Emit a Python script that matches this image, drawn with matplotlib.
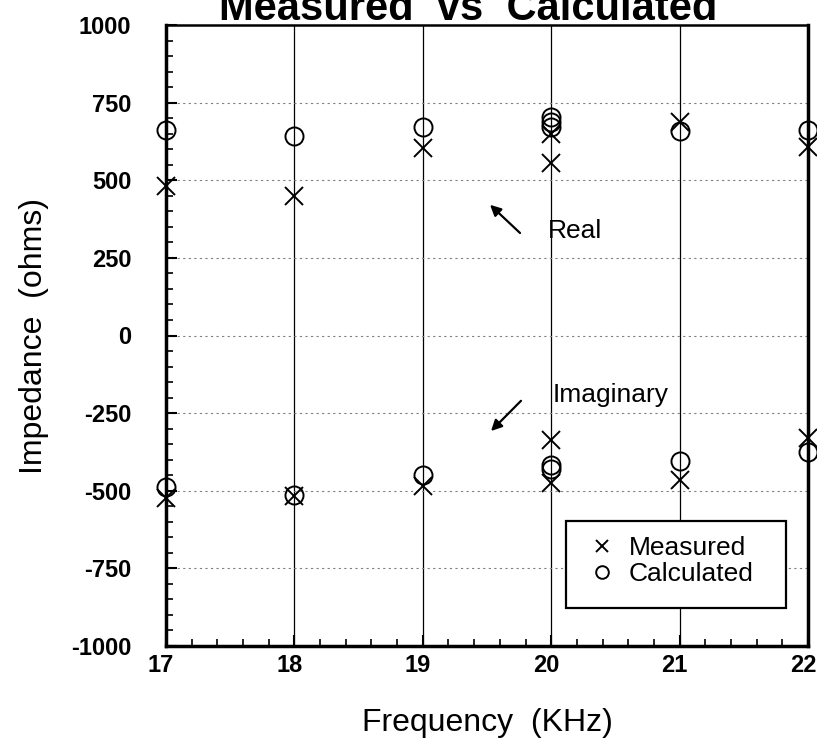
import matplotlib
matplotlib.use("Agg")
import matplotlib.pyplot as plt
from matplotlib.patches import Rectangle
from matplotlib.ticker import MultipleLocator
from matplotlib.transforms import ScaledTranslation

plt.rcParams["font.family"] = ["Liberation Sans", "DejaVu Sans"]

# valores (frecuencia en KHz, impedancia en ohms)
real_meas_f = [17, 18, 19, 20, 20, 21, 22]
real_meas_z = [480, 450, 605, 557, 650, 688, 608]
real_calc_f = [17, 18, 19, 20, 20, 20, 21, 22]
real_calc_z = [663, 641, 672, 705, 688, 672, 660, 663]
imag_meas_f = [17, 18, 19, 20, 20, 21, 22]
imag_meas_z = [-522, -518, -484, -337, -474, -465, -330]
imag_calc_f = [17, 18, 19, 20, 20, 21, 22]
imag_calc_z = [-488, -515, -449, -417, -430, -404, -374]

xticks = [17, 18, 19, 20, 21, 22]
yticks = [-1000, -750, -500, -250, 0, 250, 500, 750, 1000]

fig = plt.figure(figsize=(8.17, 7.44), dpi=100)
ax = fig.add_axes([166 / 817, 98 / 744, 642 / 817, 621 / 744])

mk = dict(linestyle="none", markersize=13, markerfacecolor="none", markeredgecolor="black",
          markeredgewidth=1.4, clip_on=False, zorder=5)
ax.plot(real_meas_f + imag_meas_f, real_meas_z + imag_meas_z, marker="x", label="Measured", **mk)
ax.plot(real_calc_f + imag_calc_f, real_calc_z + imag_calc_z, marker="o", label="Calculated", **mk)

ax.set_xlim(17, 22)
ax.set_ylim(-1000, 1000)
ax.set_xticks(xticks)
ax.set_yticks(yticks)
ax.xaxis.set_minor_locator(MultipleLocator(0.2))
ax.yaxis.set_minor_locator(MultipleLocator(50))
ax.set_xticklabels([str(t) for t in xticks], fontsize=17, fontweight="bold")
ax.set_yticklabels([str(t) for t in yticks], fontsize=17, fontweight="bold")
ax.tick_params(which="major", direction="in", length=8, width=1.5)
ax.tick_params(which="minor", direction="in", length=5, width=1.2)
ax.tick_params(axis="x", pad=6)
ax.tick_params(axis="y", pad=25)
# las etiquetas del eje x van un poco corridas a la izquierda en el original
off = ScaledTranslation(-5 / 100, 0, fig.dpi_scale_trans)
for lab in ax.get_xticklabels():
    lab.set_transform(lab.get_transform() + off)

for x in xticks[1:-1]:
    ax.axvline(x, color="black", lw=0.9, zorder=1)
for y in yticks[1:-1]:
    ax.axhline(y, color="gray", lw=0.8, ls=(0, (2, 3)), zorder=1)

for s in ["left", "bottom", "right"]:
    ax.spines[s].set_linewidth(2.5)
ax.spines["top"].set_linewidth(1.8)

ax.set_xlabel("Frequency  (KHz)", fontsize=23, labelpad=22)
ax.set_ylabel("Impedance  (ohms)", fontsize=23, labelpad=16)

ax.annotate("", xy=(19.508, 427), xytext=(19.773, 324),
            arrowprops=dict(arrowstyle="-|>", color="black", lw=1.6, mutation_scale=16))
ax.text(19.975, 337, "Real", fontsize=19, ha="left", va="center")
ax.annotate("", xy=(19.516, -314), xytext=(19.78, -204),
            arrowprops=dict(arrowstyle="-|>", color="black", lw=1.6, mutation_scale=16))
ax.text(20.01, -192, "Imaginary", fontsize=19, ha="left", va="center")

# caja de la leyenda dibujada aparte para clavar su tamano
ax.add_patch(Rectangle((0.623, 0.0612), 0.9657 - 0.623, 0.2013 - 0.0612, transform=ax.transAxes,
                       facecolor="white", edgecolor="black", lw=1.6, zorder=6))
leg = ax.legend(loc="center left", bbox_to_anchor=(0.659, 0.137), fontsize=19, frameon=False,
                handletextpad=0.5, borderpad=0, borderaxespad=0, labelspacing=0.08,
                handlelength=1.0, markerscale=0.7)
leg.set_zorder(7)

fig.text(0.573, 1 - 20 / 744, "Measured  vs  Calculated", fontsize=30, fontweight="bold",
         ha="center", va="baseline")

fig.savefig("out.png", dpi=100)
